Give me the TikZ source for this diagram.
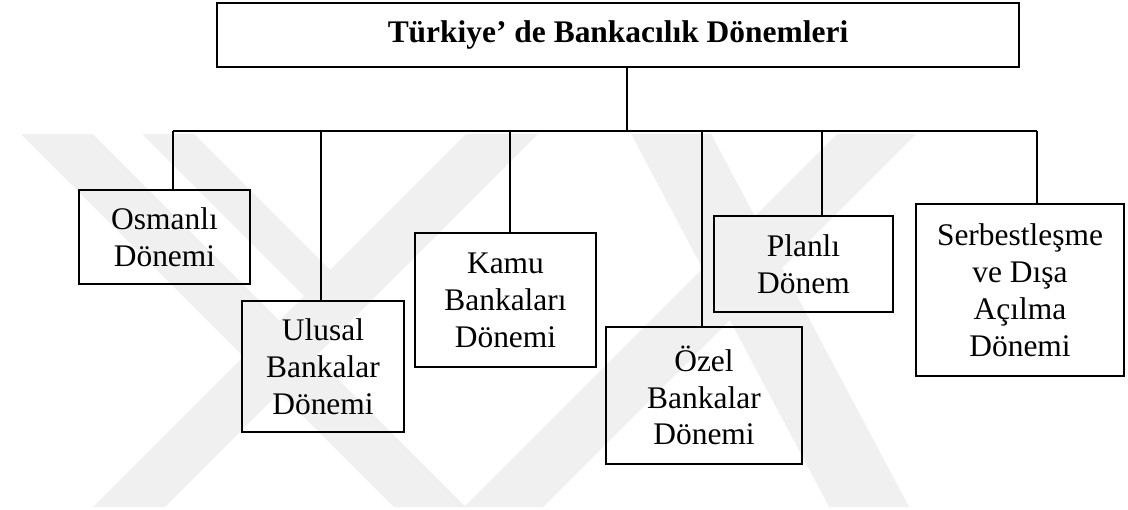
\documentclass[tikz,border=0pt]{standalone}
\usepackage{fontspec}
\setmainfont{Liberation Serif}
\tikzset{
  kutu/.style={draw, line width=0.6pt, align=center, inner sep=0pt,
    font=\fontsize{17.9}{21}\selectfont},
  iz/.style={fill=black!6, draw=none}
}
\begin{document}
\begin{tikzpicture}[line width=0.6pt]
  \useasboundingbox (0,0) rectangle (22.56,10.18);
  % filigran
  \begin{scope}[shift={(0cm,10.18cm)}, x=0.02cm, y=-0.02cm]
    \clip (0,134) rectangle (1128,507);
    \fill[iz] (21,134) -- (93,134) -- (466,507) -- (394,507) -- cycle;
    \fill[iz] (142,134) -- (194,134) -- (348,288) -- (322,314) -- cycle;
    \fill[iz] (466,134) -- (538,134) -- (165,507) -- (93,507) -- cycle;
    \fill[iz] (631,134) -- (711,134) -- (909,507) -- (829,507) -- cycle;
    \fill[iz] (837,134) -- (916,134) -- (543,507) -- (464,507) -- cycle;
  \end{scope}
  % kutular
  \node[kutu, minimum width=16.04cm, minimum height=1.28cm,
    font=\bfseries\fontsize{17.9}{21}\selectfont] (baslik) at (12.36,9.48)
    {Türkiye’ de Bankacılık Dönemleri};
  \node[kutu, minimum width=3.42cm, minimum height=1.88cm] (osmanli) at (3.29,5.44)
    {Osmanlı\\Dönemi};
  \node[kutu, minimum width=3.24cm, minimum height=2.62cm] (ulusal) at (6.46,2.85)
    {Ulusal\\Bankalar\\Dönemi};
  \node[kutu, minimum width=3.62cm, minimum height=2.68cm] (kamu) at (10.11,4.18)
    {Kamu\\Bankaları\\Dönemi};
  \node[kutu, minimum width=3.92cm, minimum height=2.74cm] (ozel) at (14.08,2.27)
    {Özel\\Bankalar\\Dönemi};
  \node[kutu, minimum width=3.58cm, minimum height=1.92cm] (planli) at (16.07,4.90)
    {Planlı\\Dönem};
  \node[kutu, minimum width=4.16cm, minimum height=3.44cm] (serbest) at (20.40,4.38)
    {Serbestleşme\\ve Dışa\\Açılma\\Dönemi};
  % baglantilar
  \coordinate (kok) at (12.54,7.56);
  \coordinate (b1) at (3.46,7.56);
  \coordinate (b2) at (6.42,7.56);
  \coordinate (b3) at (10.20,7.56);
  \coordinate (b4) at (14.04,7.56);
  \coordinate (b5) at (16.44,7.56);
  \coordinate (b6) at (20.74,7.56);
  \draw (baslik.south -| kok) -- (kok);
  \draw (b1) -- (b6);
  \draw (b1) -- (b1 |- osmanli.north);
  \draw (b2) -- (b2 |- ulusal.north);
  \draw (b3) -- (b3 |- kamu.north);
  \draw (b4) -- (b4 |- ozel.north);
  \draw (b5) -- (b5 |- planli.north);
  \draw (b6) -- (b6 |- serbest.north);
\end{tikzpicture}
\end{document}
